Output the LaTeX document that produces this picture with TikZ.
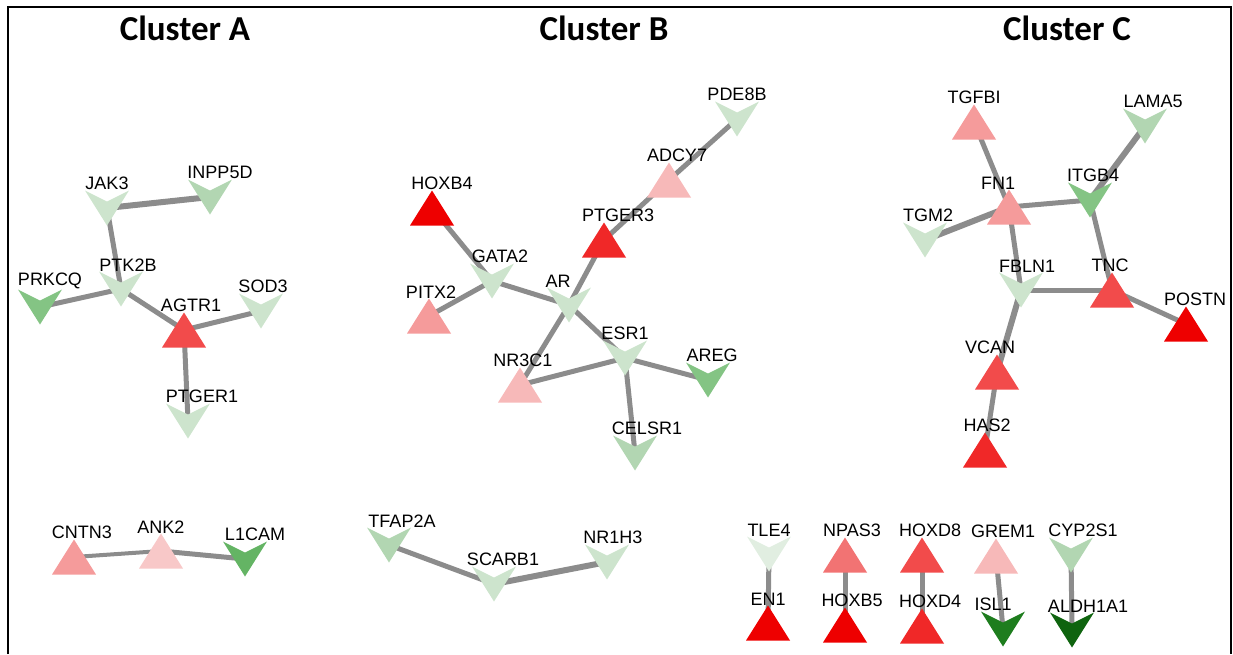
\documentclass[tikz,border=0pt]{standalone}
\usepackage{fontspec}
\setmainfont{Liberation Sans}
\newfontfamily\clusterfont{Carlito}
\usetikzlibrary{backgrounds}

% shades of the up (red) and down (green) genes
\definecolor{red1}{RGB}{238,0,0}
\definecolor{red2}{RGB}{240,40,40}
\definecolor{red3}{RGB}{242,75,75}
\definecolor{red4}{RGB}{242,115,115}
\definecolor{red5}{RGB}{245,155,155}
\definecolor{red6}{RGB}{247,185,185}
\definecolor{red7}{RGB}{248,200,200}
\definecolor{grn1}{RGB}{225,238,225}
\definecolor{grn2}{RGB}{205,228,205}
\definecolor{grn3}{RGB}{178,214,178}
\definecolor{grn4}{RGB}{132,196,132}
\definecolor{grn5}{RGB}{100,180,100}
\definecolor{grn6}{RGB}{30,125,30}
\definecolor{grn7}{RGB}{15,100,15}
\definecolor{edgegray}{RGB}{140,140,140}

\tikzset{
  tri/.style={minimum width=44pt, minimum height=35pt, inner sep=0pt, label distance=7pt,
    path picture={\fill[#1] (path picture bounding box.south west) -- (path picture bounding box.north)
      -- (path picture bounding box.south east) -- cycle;}},
  chev/.style={minimum width=44pt, minimum height=35pt, inner sep=0pt, label distance=4.5pt,
    path picture={\fill[#1] (path picture bounding box.north west) -- ([yshift=-11pt]path picture bounding box.north)
      -- (path picture bounding box.north east) -- (path picture bounding box.south) -- cycle;}},
  every label/.style={font=\fontsize{18}{18}\selectfont, inner sep=0pt},
  edge/.style={line width=5pt, color=edgegray},
  title/.style={font=\clusterfont\bfseries\fontsize{35}{35}\selectfont, inner sep=0pt}
}

\begin{document}
\begin{tikzpicture}[x=1pt,y=-1pt]
 \useasboundingbox (0,0) rectangle (1233,654);
 \draw[line width=2.5pt] (8,654) -- (8,7) -- (1231,7) -- (1231,654);
 \node[title] (titleA) at (185,28) {Cluster A};
 \node[title] (titleB) at (604,28) {Cluster B};
 \node[title] (titleC) at (1067,28) {Cluster C};

 % cluster A
 \node[chev=grn2, label={above:JAK3}] (JAK3) at (107,208) {};
 \node[chev=grn3, label={[xshift=10pt]above:INPP5D}] (INPP5D) at (210,197) {};
 \node[chev=grn2, label={[xshift=7pt]above:PTK2B}] (PTK2B) at (121,289) {};
 \node[chev=grn4, label={[xshift=10pt]above:PRKCQ}] (PRKCQ) at (40,307) {};
 \node[tri=red3, label={[xshift=7pt]above:AGTR1}] (AGTR1) at (184,330) {};
 \node[chev=grn2, label={[xshift=2pt]above:SOD3}] (SOD3) at (261,311) {};
 \node[chev=grn2, label={[xshift=14pt]above:PTGER1}] (PTGER1) at (188,421) {};

 % cluster B
 \node[chev=grn2, label={above:PDE8B}] (PDE8B) at (737,119) {};
 \node[tri=red6, label={[xshift=8pt]above:ADCY7}] (ADCY7) at (669,180) {};
 \node[tri=red1, label={[xshift=10pt]above:HOXB4}] (HOXB4) at (432,208) {};
 \node[tri=red2, label={[xshift=14pt]above:PTGER3}] (PTGER3) at (604,240) {};
 \node[chev=grn2, label={[xshift=8pt]above:GATA2}] (GATA2) at (492,281) {};
 \node[tri=red5, label={[xshift=2pt]above:PITX2}] (PITX2) at (429,316) {};
 \node[chev=grn2, label={[xshift=-11pt]above:AR}] (AR) at (569,305) {};
 \node[chev=grn2, label={above:ESR1}] (ESR1) at (625,358) {};
 \node[tri=red6, label={[xshift=3pt]above:NR3C1}] (NR3C1) at (520,385) {};
 \node[chev=grn4, label={[xshift=4pt]above:AREG}] (AREG) at (708,380) {};
 \node[chev=grn3, label={[xshift=12pt]above:CELSR1}] (CELSR1) at (635,453) {};

 % cluster C
 \node[tri=red5, label={above:TGFBI}] (TGFBI) at (974,122) {};
 \node[chev=grn3, label={[xshift=8pt]above:LAMA5}] (LAMA5) at (1145,126) {};
 \node[tri=red5, label={[xshift=-11pt]above:FN1}] (FN1) at (1009,207) {};
 \node[chev=grn4, label={[xshift=3pt]above:ITGB4}] (ITGB4) at (1090,200) {};
 \node[chev=grn2, label={[xshift=3pt]above:TGM2}] (TGM2) at (925,240) {};
 \node[chev=grn2, label={[xshift=6pt]above:FBLN1}] (FBLN1) at (1021,290) {};
 \node[tri=red3, label={[xshift=-2pt]above:TNC}] (TNC) at (1112,290) {};
 \node[tri=red1, label={[xshift=9pt]above:POSTN}] (POSTN) at (1186,324) {};
 \node[tri=red3, label={[xshift=-7pt]above:VCAN}] (VCAN) at (997,372) {};
 \node[tri=red2, label={[xshift=2pt]above:HAS2}] (HAS2) at (985,450) {};

 % small groups
 \node[tri=red5, label={[xshift=8pt]above:CNTN3}] (CNTN3) at (74,557) {};
 \node[tri=red7, label={above:ANK2}] (ANK2) at (161,551) {};
 \node[chev=grn5, label={[xshift=10pt]above:L1CAM}] (L1CAM) at (245,559) {};
 \node[chev=grn3, label={[xshift=13pt]above:TFAP2A}] (TFAP2A) at (389,545) {};
 \node[chev=grn2, label={[xshift=9pt]above:SCARB1}] (SCARB1) at (494,584) {};
 \node[chev=grn2, label={[xshift=6pt]above:NR1H3}] (NR1H3) at (607,562) {};

 % pairs
 \node[chev=grn1, label={above:TLE4}] (TLE4) at (769,554) {};
 \node[tri=red1, label={above:EN1}] (EN1) at (768,623) {};
 \node[tri=red4, label={[xshift=7pt]above:NPAS3}] (NPAS3) at (845,555) {};
 \node[tri=red1, label={[xshift=7pt]above:HOXB5}] (HOXB5) at (845,625) {};
 \node[tri=red3, label={[xshift=8pt]above:HOXD8}] (HOXD8) at (922,555) {};
 \node[tri=red2, label={[xshift=8pt]above:HOXD4}] (HOXD4) at (922,626) {};
 \node[tri=red6, label={[xshift=7pt]above:GREM1}] (GREM1) at (996,556) {};
 \node[chev=grn6, label={[xshift=-10pt]above:ISL1}] (ISL1) at (1003,629) {};
 \node[chev=grn3, label={[xshift=12pt]above:CYP2S1}] (CYP2S1) at (1071,555) {};
 \node[chev=grn7, label={[xshift=16pt]above:ALDH1A1}] (ALDH1A1) at (1072,630) {};

 \begin{scope}[on background layer]
  \draw[edge, line width=6pt] (JAK3.center) -- (INPP5D.center);
  \draw[edge] (JAK3.center) -- (PTK2B.center);
  \draw[edge] (PTK2B.center) -- (PRKCQ.center);
  \draw[edge] (PTK2B.center) -- (AGTR1.center);
  \draw[edge] (AGTR1.center) -- (SOD3.center);
  \draw[edge] (AGTR1.center) -- (PTGER1.center);

  \draw[edge] (PDE8B.center) -- (ADCY7.center);
  \draw[edge] (ADCY7.center) -- (PTGER3.center);
  \draw[edge] (PTGER3.center) -- (AR.center);
  \draw[edge] (HOXB4.center) -- (GATA2.center);
  \draw[edge] (GATA2.center) -- (PITX2.center);
  \draw[edge] (GATA2.center) -- (AR.center);
  \draw[edge] (AR.center) -- (NR3C1.center);
  \draw[edge] (AR.center) -- (ESR1.center);
  \draw[edge] (ESR1.center) -- (NR3C1.center);
  \draw[edge] (ESR1.center) -- (AREG.center);
  \draw[edge] (ESR1.center) -- (CELSR1.center);

  \draw[edge] (TGFBI.center) -- (FN1.center);
  \draw[edge, line width=6pt] (FN1.center) -- (TGM2.center);
  \draw[edge] (FN1.center) -- (ITGB4.center);
  \draw[edge] (FN1.center) -- (FBLN1.center);
  \draw[edge, line width=6pt] (ITGB4.center) -- (LAMA5.center);
  \draw[edge] (ITGB4.center) -- (TNC.center);
  \draw[edge] (FBLN1.center) -- (TNC.center);
  \draw[edge] (TNC.center) -- (POSTN.center);
  \draw[edge, line width=6pt] (FBLN1.center) -- (VCAN.center);
  \draw[edge] (VCAN.center) -- (HAS2.center);

  \draw[edge, line width=4pt] (CNTN3.center) -- (ANK2.center);
  \draw[edge] (ANK2.center) -- (L1CAM.center);
  \draw[edge] (TFAP2A.center) -- (SCARB1.center);
  \draw[edge, line width=6pt] (SCARB1.center) -- (NR1H3.center);

  \draw[edge] (TLE4.center) -- (EN1.center);
  \draw[edge] (NPAS3.center) -- (HOXB5.center);
  \draw[edge] (HOXD8.center) -- (HOXD4.center);
  \draw[edge] (GREM1.center) -- (ISL1.center);
  \draw[edge] (CYP2S1.center) -- (ALDH1A1.center);
 \end{scope}
\end{tikzpicture}
\end{document}
